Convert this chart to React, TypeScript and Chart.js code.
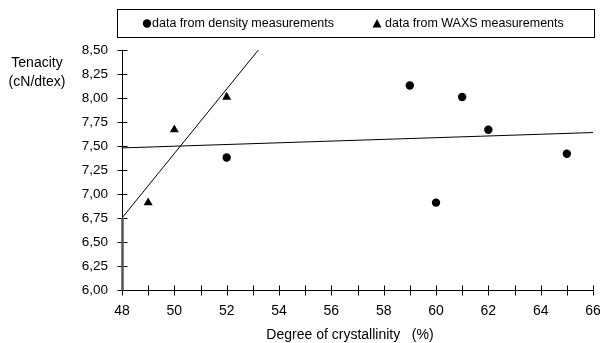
import React, { useEffect, useRef } from "react";
import { Chart, registerables } from "chart.js";

Chart.register(...registerables);

// ---- data ----
const densityCrystallinity = [52, 59, 60, 61, 62, 65];
const densityTenacity = [7.38, 8.13, 6.91, 8.01, 7.67, 7.42];
const waxsCrystallinity = [49, 50, 52];
const waxsTenacity = [6.91, 7.67, 8.01];
const waxsFitX = [48, 53.21];
const waxsFitY = [6.75, 8.5];
const densityFitX = [48, 66];
const densityFitY = [7.48, 7.64];
const legendLabels = ["data from density measurements", "data from WAXS measurements"];
const xTitle = "Degree of crystallinity   (%)";
const yTitleLines = ["Tenacity", "(cN/dtex)"];
const xRange = [48, 66];
const yRange = [6, 8.5];
const yStep = 0.25;

const FONT = '"Liberation Sans", Arial, sans-serif';

const toPoints = (xs: number[], ys: number[]) => xs.map((x, i) => ({ x, y: ys[i] }));

const decor = {
  id: "decor",
  afterDraw(chart: any) {
    const { ctx, scales } = chart;
    const x = scales.x;
    const y = scales.y;
    const ax = Math.round(x.left) + 0.5;
    const ay = Math.round(y.bottom) + 0.5;
    ctx.save();
    ctx.strokeStyle = "#000";
    ctx.lineWidth = 1;
    // crossing tick marks
    ctx.beginPath();
    y.ticks.forEach((t: any) => {
      const py = Math.round(y.getPixelForValue(t.value)) + 0.5;
      ctx.moveTo(ax - 5, py);
      ctx.lineTo(ax + 5, py);
    });
    x.ticks.forEach((t: any) => {
      const px = Math.round(x.getPixelForValue(t.value)) + 0.5;
      ctx.moveTo(px, ay - 5);
      ctx.lineTo(px, ay + 5);
    });
    ctx.stroke();
    // darker lower part of the y axis (as in the scan)
    ctx.strokeStyle = "#555";
    ctx.lineWidth = 2.5;
    ctx.beginPath();
    ctx.moveTo(ax, y.getPixelForValue(6.75));
    ctx.lineTo(ax, ay);
    ctx.stroke();

    // legend box
    ctx.strokeStyle = "#000";
    ctx.lineWidth = 1;
    ctx.strokeRect(117.5, 9.5, 477, 28);
    ctx.fillStyle = "#000";
    ctx.beginPath();
    ctx.arc(147, 23.5, 4.2, 0, Math.PI * 2);
    ctx.fill();
    ctx.beginPath();
    ctx.moveTo(377, 19);
    ctx.lineTo(381.5, 27.5);
    ctx.lineTo(372.5, 27.5);
    ctx.closePath();
    ctx.fill();
    ctx.font = `12.5px ${FONT}`;
    ctx.textBaseline = "middle";
    ctx.textAlign = "left";
    ctx.fillText(chart.data.datasets[0].label, 152, 23.5);
    ctx.fillText(chart.data.datasets[1].label, 385, 23.5);

    // axis titles
    ctx.font = `14px ${FONT}`;
    ctx.textAlign = "center";
    ctx.fillText(yTitleLines[0], 37, 63);
    ctx.fillText(yTitleLines[1], 37, 82);
    ctx.fillText(xTitle, 350, 335);
    ctx.restore();
  },
};

export default function App() {
  const ref = useRef<HTMLCanvasElement>(null);
  useEffect(() => {
    document.body.style.margin = "0";
    const canvas = ref.current;
    if (!canvas) return;
    const chart = new Chart(canvas, {
      type: "scatter",
      data: {
        datasets: [
          {
            label: legendLabels[0],
            data: toPoints(densityCrystallinity, densityTenacity),
            pointStyle: "circle",
            pointRadius: 4.2,
            pointBorderWidth: 0,
            backgroundColor: "#000",
            borderColor: "#000",
          },
          {
            label: legendLabels[1],
            data: toPoints(waxsCrystallinity, waxsTenacity),
            pointStyle: "triangle",
            pointRadius: 5.2,
            pointBorderWidth: 0,
            backgroundColor: "#000",
            borderColor: "#000",
          },
          {
            label: "WAXS fit",
            data: toPoints(waxsFitX, waxsFitY),
            showLine: true,
            pointRadius: 0,
            borderColor: "#000",
            borderWidth: 1,
          },
          {
            label: "density fit",
            data: toPoints(densityFitX, densityFitY),
            showLine: true,
            pointRadius: 0,
            borderColor: "#000",
            borderWidth: 1,
          },
        ],
      },
      options: {
        animation: false,
        responsive: false,
        layout: { padding: { left: 0, right: 7, top: 50, bottom: 0 } },
        plugins: { legend: { display: false }, tooltip: { enabled: false } },
        scales: {
          x: {
            type: "linear",
            min: xRange[0],
            max: xRange[1],
            grid: { display: false, drawTicks: false },
            border: { display: true, color: "#000", width: 1 },
            ticks: {
              stepSize: 1,
              autoSkip: false,
              maxRotation: 0,
              padding: 13,
              color: "#000",
              font: { family: FONT, size: 14 },
              callback: (v: any) => (Number(v) % 2 === 0 ? String(v) : ""),
            },
            afterFit: (s: any) => {
              s.height = 53;
              s.paddingLeft = 0;
              s.paddingRight = 0;
            },
          },
          y: {
            type: "linear",
            min: yRange[0],
            max: yRange[1],
            grid: { display: false, drawTicks: false },
            border: { display: true, color: "#000", width: 1 },
            ticks: {
              stepSize: yStep,
              autoSkip: false,
              padding: 14,
              color: "#000",
              font: { family: FONT, size: 13.5 },
              callback: (v: any) => Number(v).toFixed(2).replace(".", ","),
            },
            afterFit: (s: any) => {
              s.width = 122;
              s.paddingTop = 0;
              s.paddingBottom = 0;
            },
          },
        },
      },
      plugins: [decor],
    });
    return () => chart.destroy();
  }, []);
  return <canvas ref={ref} width={600} height={343} style={{ display: "block" }} />;
}
